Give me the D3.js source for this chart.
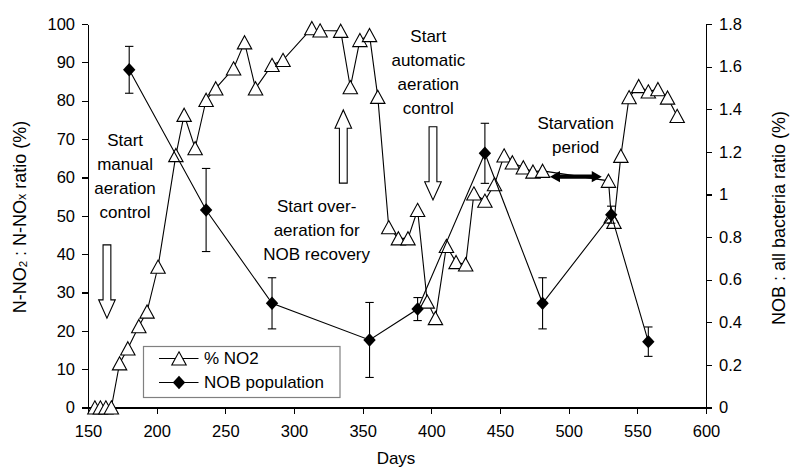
<!DOCTYPE html>
<html>
<head>
<meta charset="utf-8">
<script src="https://cdn.jsdelivr.net/npm/d3@7"></script>
<style>
  html, body { margin: 0; padding: 0; background: #fff; }
  svg { display: block; font-family: "Liberation Sans", Arial, Helvetica, sans-serif; }
</style>
</head>
<body>
<svg id="chart" width="791" height="469"></svg>
<script>
// Nitrite accumulation (% NO2 of NOx) by day
const no2Days = [155, 159, 163, 167, 173, 179, 187, 193, 201, 214, 220, 228, 236, 243, 256, 264, 272,
                 284, 292, 313, 319, 334, 341, 348, 355, 361, 369, 376, 383, 390, 397, 403, 411, 418,
                 425, 431, 439, 446, 453, 459, 467, 474, 481, 529, 531, 533, 538, 544, 551, 558, 565,
                 572, 579];
const no2Pct = [0, 0, 0, 0, 11.5, 15.4, 21.2, 25, 36.7, 65.8, 76.3, 67.6, 80.2, 83.2, 88.4, 95.2, 83.2,
                89.3, 90.6, 98.9, 98.3, 98.2, 83.5, 95.8, 97.1, 81, 47, 44.1, 44.1, 51.5, 27.6, 23.3, 42.1,
                37.9, 37.3, 55.8, 53.9, 58.2, 65.7, 63.9, 62.6, 61.5, 61.7, 59.1, 49.8, 48.4, 65.6, 80.9,
                83.8, 82.4, 83, 80.8, 76];

// NOB share of all bacteria, with error bar half-widths
const nobDays = [180, 236, 284, 355, 390, 439, 481, 531, 558];
const nobRatio = [1.585, 0.927, 0.489, 0.317, 0.462, 1.193, 0.489, 0.905, 0.309];
const nobErr = [0.11, 0.195, 0.12, 0.176, 0.054, 0.141, 0.12, 0.04, 0.069];

// Axis ticks
const dayTicks = [150, 200, 250, 300, 350, 400, 450, 500, 550, 600];
const pctTicks = [0, 10, 20, 30, 40, 50, 60, 70, 80, 90, 100];
const ratioTicks = [0, 0.2, 0.4, 0.6, 0.8, 1, 1.2, 1.4, 1.6, 1.8];

const seriesNames = ["% NO2", "NOB population"];

// Phase annotations (day, % position of first text line)
const noteLines = [
  ["Start", "manual", "aeration", "control"],
  ["Start over-", "aeration for", "NOB recovery"],
  ["Start", "automatic", "aeration", "control"],
  ["Starvation", "period"]
];
const noteDay = [177, 316.5, 397.8, 505.1];
const notePct = [69.75, 52.6, 96.9, 74.1];

// Hollow block arrows: day, tail %, tip %
const arrowDay = [163.8, 335.9, 401.2];
const arrowFrom = [42.4, 58.5, 73.2];
const arrowTo = [23.3, 77.6, 54.1];

// Starvation period span
const starveSpan = [486.4, 524.1];
const starvePct = 60.2;

const svg = d3.select("#chart");
const FONT = 16.5;

const x = d3.scaleLinear().domain([150, 600]).range([88, 706]);
const yL = d3.scaleLinear().domain([0, 100]).range([407.5, 24]);
const yR = d3.scaleLinear().domain([0, 1.8]).range([407.5, 24]);

// Axes
const fmt = d3.format("~g");
const gx = svg.append("g").attr("transform", `translate(0,${yL(0)})`)
  .call(d3.axisBottom(x).tickValues(dayTicks).tickFormat(fmt).tickSize(6).tickSizeOuter(0).tickPadding(12));
const gyL = svg.append("g").attr("transform", `translate(${x(150)},0)`)
  .call(d3.axisLeft(yL).tickValues(pctTicks).tickFormat(fmt).tickSize(6).tickSizeOuter(0).tickPadding(7));
const gyR = svg.append("g").attr("transform", `translate(${x(600)},0)`)
  .call(d3.axisRight(yR).tickValues(ratioTicks).tickFormat(fmt).tickSize(6).tickSizeOuter(0).tickPadding(7));

[gx, gyL, gyR].forEach(g => {
  g.selectAll("path.domain").attr("stroke", "#000").attr("stroke-width", 1.2).attr("shape-rendering", "crispEdges");
  g.selectAll(".tick line").attr("stroke", "#000").attr("stroke-width", 1.2).attr("shape-rendering", "crispEdges");
  g.selectAll(".tick text").attr("fill", "#000").style("font-size", FONT + "px")
    .style("font-family", '"Liberation Sans", Arial, sans-serif');
});

// Axis titles
svg.append("text")
  .attr("x", 396).attr("y", 458).attr("text-anchor", "middle").attr("dominant-baseline", "central")
  .style("font-size", "17px").text("Days");

const tl = svg.append("text")
  .attr("transform", "translate(20,217) rotate(-90)")
  .attr("text-anchor", "middle").attr("dominant-baseline", "central")
  .style("font-size", "18px");
tl.append("tspan").text("N-NO");
tl.append("tspan").attr("font-size", "11.5px").attr("baseline-shift", "-3").text("2");
tl.append("tspan").text(" : N-NO");
tl.append("tspan").attr("font-size", "12.5px").attr("baseline-shift", "-2").text("x");
tl.append("tspan").text(" ratio (%)");

svg.append("text")
  .attr("transform", "translate(779,218) rotate(-90)")
  .attr("text-anchor", "middle").attr("dominant-baseline", "central")
  .style("font-size", "18px").text("NOB : all bacteria ratio (%)");

// % NO2 series
const no2 = no2Days.map((d, i) => [d, no2Pct[i]]);
svg.append("path").datum(no2)
  .attr("fill", "none").attr("stroke", "#000").attr("stroke-width", 1.1)
  .attr("d", d3.line().x(d => x(d[0])).y(d => yL(d[1])));

const triPath = "M0,-6.7L7.2,6.5L-7.2,6.5Z";
svg.append("g").selectAll("path").data(no2).join("path")
  .attr("d", triPath)
  .attr("transform", d => `translate(${x(d[0])},${yL(d[1])})`)
  .attr("fill", "#fff").attr("stroke", "#000").attr("stroke-width", 1.1);

// NOB series
const nob = nobDays.map((d, i) => ({ d, v: nobRatio[i], e: nobErr[i] }));
svg.append("path").datum(nob)
  .attr("fill", "none").attr("stroke", "#000").attr("stroke-width", 1.1)
  .attr("d", d3.line().x(p => x(p.d)).y(p => yR(p.v)));

const eb = svg.append("g").attr("stroke", "#000").attr("stroke-width", 1.1);
nob.forEach(p => {
  const cx = x(p.d), t = yR(p.v + p.e), b = yR(p.v - p.e);
  eb.append("line").attr("x1", cx).attr("x2", cx).attr("y1", t).attr("y2", b);
  eb.append("line").attr("x1", cx - 4.2).attr("x2", cx + 4.2).attr("y1", t).attr("y2", t);
  eb.append("line").attr("x1", cx - 4.2).attr("x2", cx + 4.2).attr("y1", b).attr("y2", b);
});

const diaPath = "M0,-6.7L6.2,0L0,6.7L-6.2,0Z";
svg.append("g").selectAll("path").data(nob).join("path")
  .attr("d", diaPath)
  .attr("transform", p => `translate(${x(p.d)},${yR(p.v)})`)
  .attr("fill", "#000");

// Phase annotation text
noteLines.forEach((lines, i) => {
  const t = svg.append("text")
    .attr("text-anchor", "middle").attr("dominant-baseline", "central")
    .style("font-size", "17px");
  lines.forEach((s, j) => {
    t.append("tspan").attr("x", x(noteDay[i])).attr("y", yL(notePct[i]) + j * 24).text(s);
  });
});

// Hollow block arrows
function blockArrow(cx, y0, y1) {
  const dir = y1 > y0 ? 1 : -1;
  const sw = 3.9, hw = 8.3, hl = 18.3;
  const yb = y1 - dir * hl;
  return `M${cx - sw},${y0}L${cx + sw},${y0}L${cx + sw},${yb}L${cx + hw},${yb}` +
         `L${cx},${y1}L${cx - hw},${yb}L${cx - sw},${yb}Z`;
}
arrowDay.forEach((d, i) => {
  svg.append("path")
    .attr("d", blockArrow(x(d), yL(arrowFrom[i]), yL(arrowTo[i])))
    .attr("fill", "#fff").attr("stroke", "#000").attr("stroke-width", 1.1);
});

// Starvation double-headed arrow
{
  const xa = x(starveSpan[0]), xb = x(starveSpan[1]), yc = yL(starvePct);
  const sh = 2.2, hh = 5.6, hl = 10;
  svg.append("path")
    .attr("d", `M${xa},${yc}L${xa + hl},${yc - hh}L${xa + hl},${yc - sh}L${xb - hl},${yc - sh}` +
               `L${xb - hl},${yc - hh}L${xb},${yc}L${xb - hl},${yc + hh}L${xb - hl},${yc + sh}` +
               `L${xa + hl},${yc + sh}L${xa + hl},${yc + hh}Z`)
    .attr("fill", "#000");
}

// Legend
const lg = svg.append("g");
lg.append("rect").attr("x", 143.5).attr("y", 346.5).attr("width", 196.5).attr("height", 51)
  .attr("fill", "#fff").attr("stroke", "#808080").attr("stroke-width", 1.2);
const legY = [358.5, 382.5];
seriesNames.forEach((name, i) => {
  lg.append("line").attr("x1", 159).attr("x2", 198.5).attr("y1", legY[i]).attr("y2", legY[i])
    .attr("stroke", "#000").attr("stroke-width", 1.1);
  lg.append("path").attr("d", i === 0 ? triPath : diaPath)
    .attr("transform", `translate(179,${legY[i]})`)
    .attr("fill", i === 0 ? "#fff" : "#000").attr("stroke", i === 0 ? "#000" : "none").attr("stroke-width", 1.1);
  lg.append("text").attr("x", 204).attr("y", legY[i]).attr("dominant-baseline", "central")
    .style("font-size", "17px").text(name);
});
</script>
</body>
</html>
